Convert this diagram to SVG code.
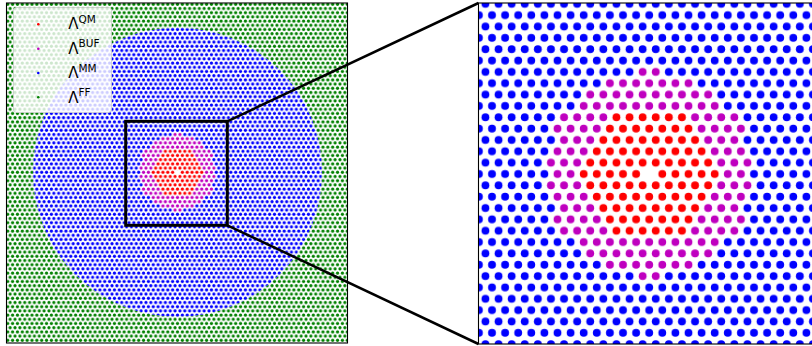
<svg xmlns="http://www.w3.org/2000/svg" width="812" height="346" viewBox="0 0 812 346">
<style>
.leg{font-family:"DejaVu Sans","Liberation Sans",sans-serif;fill:#000}
.lam{font-size:15px}
.sup{font-size:10.5px}
.spine{fill:none;stroke:#000;stroke-width:1.1}
.zoombox{fill:none;stroke:#000;stroke-width:3}
.conn{stroke:#000;stroke-width:2.5;fill:none}
.hole{fill:#fff}
</style>
<defs>
<pattern id="pg" patternUnits="userSpaceOnUse" x="-0.5" y="-0.4330127" width="1" height="1.7320508"><g fill="#008000"><circle cx="0.5" cy="0.4330127" r="0.33"/><circle cx="0" cy="1.2990381" r="0.33"/><circle cx="1" cy="1.2990381" r="0.33"/></g></pattern>
<pattern id="pbL" patternUnits="userSpaceOnUse" x="-0.5" y="-0.4330127" width="1" height="1.7320508"><g fill="#0000ff"><circle cx="0.5" cy="0.4330127" r="0.33"/><circle cx="0" cy="1.2990381" r="0.33"/><circle cx="1" cy="1.2990381" r="0.33"/></g></pattern>
<pattern id="pmL" patternUnits="userSpaceOnUse" x="-0.5" y="-0.4330127" width="1" height="1.7320508"><g fill="#bf00bf"><circle cx="0.5" cy="0.4330127" r="0.33"/><circle cx="0" cy="1.2990381" r="0.33"/><circle cx="1" cy="1.2990381" r="0.33"/></g></pattern>
<pattern id="prL" patternUnits="userSpaceOnUse" x="-0.5" y="-0.4330127" width="1" height="1.7320508"><g fill="#ff0000"><circle cx="0.5" cy="0.4330127" r="0.33"/><circle cx="0" cy="1.2990381" r="0.33"/><circle cx="1" cy="1.2990381" r="0.33"/></g></pattern>
<pattern id="pb" patternUnits="userSpaceOnUse" x="-0.5" y="-0.4330127" width="1" height="1.7320508"><g fill="#0000ff"><circle cx="0.5" cy="0.4330127" r="0.3"/><circle cx="0" cy="1.2990381" r="0.3"/><circle cx="1" cy="1.2990381" r="0.3"/></g></pattern>
<pattern id="pm" patternUnits="userSpaceOnUse" x="-0.5" y="-0.4330127" width="1" height="1.7320508"><g fill="#bf00bf"><circle cx="0.5" cy="0.4330127" r="0.3"/><circle cx="0" cy="1.2990381" r="0.3"/><circle cx="1" cy="1.2990381" r="0.3"/></g></pattern>
<pattern id="pr" patternUnits="userSpaceOnUse" x="-0.5" y="-0.4330127" width="1" height="1.7320508"><g fill="#ff0000"><circle cx="0.5" cy="0.4330127" r="0.3"/><circle cx="0" cy="1.2990381" r="0.3"/><circle cx="1" cy="1.2990381" r="0.3"/></g></pattern>
<path id="magR" d="M -1 -8.227 H 1 V -7.361 H 3.5 V -6.495 H 5 V -5.629 H 5.5 V -4.763 H 7 V -3.897 H 7.5 V -3.031 H 7 V -2.165 H 7.5 V -1.299 H 8 V -0.433 H 7.5 V 0.433 H 8 V 1.299 H 7.5 V 2.165 H 7 V 3.031 H 7.5 V 3.897 H 7 V 4.763 H 5.5 V 5.629 H 5 V 6.495 H 3.5 V 7.361 H 1 V 8.227 H -1 V 7.361 H -3.5 V 6.495 H -5 V 5.629 H -5.5 V 4.763 H -7 V 3.897 H -7.5 V 3.031 H -7 V 2.165 H -7.5 V 1.299 H -8 V 0.433 H -7.5 V -0.433 H -8 V -1.299 H -7.5 V -2.165 H -7 V -3.031 H -7.5 V -3.897 H -7 V -4.763 H -5.5 V -5.629 H -5 V -6.495 H -3.5 V -7.361 H -1 Z"/>
<path id="redR" d="M -3 -4.763 H 3 V -3.897 H 3.5 V -3.031 H 4 V -2.165 H 4.5 V -1.299 H 5 V -0.433 H 5.5 V 0.433 H 5 V 1.299 H 4.5 V 2.165 H 4 V 3.031 H 3.5 V 3.897 H 3 V 4.763 H -3 V 3.897 H -3.5 V 3.031 H -4 V 2.165 H -4.5 V 1.299 H -5 V 0.433 H -5.5 V -0.433 H -5 V -1.299 H -4.5 V -2.165 H -4 V -3.031 H -3.5 V -3.897 H -3 Z"/>
<clipPath id="clipL"><rect x="6.5" y="3" width="341" height="340"/></clipPath>
<clipPath id="clipR"><rect x="478.5" y="3" width="340" height="341"/></clipPath>
</defs>
<rect width="812" height="346" fill="#fff"/>
<g id="full-view" clip-path="url(#clipL)">
<g transform="translate(177.5 172.3) scale(4.85)">
<rect x="-37" y="-37" width="74" height="74" fill="url(#pg)"/>
<circle r="29.8" fill="#fff"/><circle r="29.8" fill="url(#pbL)"/>
<use href="#magR" fill="#fff"/><use href="#magR" fill="url(#pmL)"/>
<use href="#redR" fill="#fff"/><use href="#redR" fill="url(#prL)"/>
<rect class="hole" x="-0.5" y="-0.4330127" width="1" height="0.8660254"/>
</g>
</g>
<rect class="spine" x="6.5" y="3" width="341" height="340"/>
<g id="zoom-view" clip-path="url(#clipR)">
<g transform="translate(649.2 174) scale(13.1)">
<rect x="-14" y="-14" width="28" height="28" fill="url(#pb)"/>
<use href="#magR" fill="#fff"/><use href="#magR" fill="url(#pm)"/>
<use href="#redR" fill="#fff"/><use href="#redR" fill="url(#pr)"/>
<rect class="hole" x="-0.5" y="-0.4330127" width="1" height="0.8660254"/>
</g>
</g>
<rect class="spine" x="478.5" y="3" width="340" height="341"/>
<g id="legend">
<rect x="13.5" y="7.5" width="98" height="105" rx="3" fill="#fff" fill-opacity="0.8" stroke="#ccc" stroke-opacity="0.8"/>
<g id="leg-qm"><circle cx="38.3" cy="24.3" r="1.3" fill="#ff0000"/><text class="leg lam" x="68.3" y="29.3">Λ<tspan class="sup" dy="-6.3">QM</tspan></text></g>
<g id="leg-buf"><circle cx="38.3" cy="48.7" r="1.3" fill="#bf00bf"/><text class="leg lam" x="68.3" y="53.6">Λ<tspan class="sup" dy="-6.3">BUF</tspan></text></g>
<g id="leg-mm"><circle cx="38.3" cy="73" r="1.3" fill="#0000ff"/><text class="leg lam" x="68.3" y="78.1">Λ<tspan class="sup" dy="-6.3">MM</tspan></text></g>
<g id="leg-ff"><circle cx="38.3" cy="97.3" r="1.3" fill="#008000"/><text class="leg lam" x="68.3" y="102.5">Λ<tspan class="sup" dy="-6.3">FF</tspan></text></g>
</g>
<g id="zoom-box"><rect class="zoombox" x="125.7" y="121.3" width="101.6" height="104"/></g>
<g id="connectors">
<line class="conn" x1="227.3" y1="121.3" x2="478.5" y2="3"/>
<line class="conn" x1="227.3" y1="225.3" x2="478.5" y2="344"/>
</g>
</svg>
